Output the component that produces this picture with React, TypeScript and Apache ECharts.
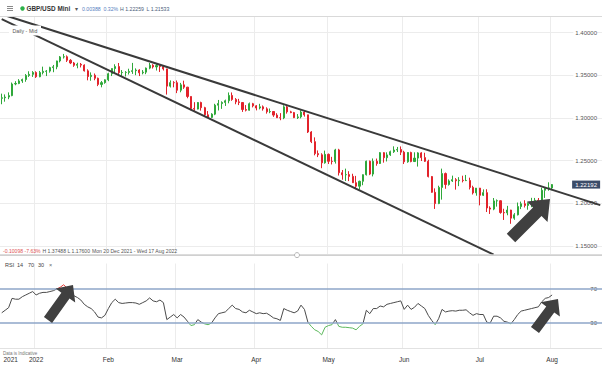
import React, { useEffect, useRef } from 'react';
import * as echarts from 'echarts';

// ---- OHLC data: [open, close, low, high] per trading day ----
const dec21: number[][] = [
  [1.3229, 1.3236, 1.3160, 1.3284], [1.3236, 1.3244, 1.3190, 1.3275], [1.3244, 1.3261, 1.3219, 1.3299],
  [1.3261, 1.3397, 1.3254, 1.3414], [1.3397, 1.3403, 1.3382, 1.3430], [1.3403, 1.3433, 1.3395, 1.3454],
  [1.3433, 1.3449, 1.3410, 1.3460], [1.3449, 1.3497, 1.3423, 1.3513], [1.3497, 1.3510, 1.3480, 1.3546],
  [1.3510, 1.3532, 1.3480, 1.3548],
];
const jan22: number[][] = [
  [1.3532, 1.3482, 1.3468, 1.3546], [1.3482, 1.3531, 1.3476, 1.3550], [1.3531, 1.3545, 1.3509, 1.3600],
  [1.3545, 1.3548, 1.3490, 1.3560], [1.3548, 1.3589, 1.3530, 1.3599], [1.3589, 1.3598, 1.3535, 1.3620],
  [1.3598, 1.3667, 1.3570, 1.3670], [1.3667, 1.3714, 1.3650, 1.3725], [1.3714, 1.3716, 1.3695, 1.3749],
  [1.3716, 1.3675, 1.3655, 1.3732], [1.3675, 1.3643, 1.3630, 1.3688], [1.3643, 1.3616, 1.3598, 1.3655],
  [1.3616, 1.3627, 1.3581, 1.3646], [1.3627, 1.3618, 1.3591, 1.3643], [1.3618, 1.3551, 1.3543, 1.3627],
  [1.3551, 1.3484, 1.3440, 1.3569], [1.3484, 1.3499, 1.3435, 1.3533], [1.3499, 1.3464, 1.3441, 1.3520],
  [1.3464, 1.3392, 1.3372, 1.3472], [1.3392, 1.3413, 1.3358, 1.3432], [1.3413, 1.3446, 1.3400, 1.3452],
];
const feb22: number[][] = [
  [1.3446, 1.3517, 1.3430, 1.3529], [1.3517, 1.3578, 1.3490, 1.3580], [1.3578, 1.3601, 1.3516, 1.3628],
  [1.3601, 1.3530, 1.3490, 1.3643], [1.3530, 1.3532, 1.3490, 1.3560], [1.3532, 1.3533, 1.3485, 1.3548],
  [1.3533, 1.3544, 1.3508, 1.3576], [1.3544, 1.3553, 1.3515, 1.3644], [1.3553, 1.3560, 1.3500, 1.3580],
  [1.3560, 1.3528, 1.3490, 1.3570], [1.3528, 1.3536, 1.3510, 1.3560], [1.3536, 1.3583, 1.3512, 1.3590],
  [1.3583, 1.3616, 1.3570, 1.3643], [1.3616, 1.3597, 1.3578, 1.3629], [1.3597, 1.3613, 1.3555, 1.3640],
  [1.3613, 1.3601, 1.3538, 1.3619], [1.3601, 1.3574, 1.3555, 1.3617], [1.3574, 1.3372, 1.3273, 1.3575],
  [1.3372, 1.3413, 1.3356, 1.3439], [1.3413, 1.3412, 1.3358, 1.3430],
];
const mar22: number[][] = [
  [1.3412, 1.3324, 1.3290, 1.3438], [1.3324, 1.3387, 1.3300, 1.3410], [1.3387, 1.3360, 1.3340, 1.3436],
  [1.3360, 1.3251, 1.3230, 1.3363], [1.3251, 1.3111, 1.3090, 1.3252], [1.3111, 1.3103, 1.3083, 1.3184],
  [1.3103, 1.3180, 1.3100, 1.3186], [1.3180, 1.3120, 1.3085, 1.3190], [1.3120, 1.3036, 1.3020, 1.3130],
  [1.3036, 1.3006, 1.3000, 1.3080], [1.3006, 1.3044, 1.2999, 1.3055], [1.3044, 1.3149, 1.3032, 1.3165],
  [1.3149, 1.3168, 1.3087, 1.3210], [1.3168, 1.3181, 1.3106, 1.3194], [1.3181, 1.3201, 1.3140, 1.3214],
  [1.3201, 1.3263, 1.3171, 1.3298], [1.3263, 1.3216, 1.3200, 1.3298], [1.3216, 1.3188, 1.3160, 1.3232],
  [1.3188, 1.3180, 1.3150, 1.3223], [1.3180, 1.3098, 1.3070, 1.3184], [1.3098, 1.3090, 1.3076, 1.3150],
  [1.3090, 1.3166, 1.3085, 1.3180], [1.3166, 1.3141, 1.3123, 1.3176],
];
const apr22: number[][] = [
  [1.3141, 1.3116, 1.3088, 1.3150], [1.3116, 1.3130, 1.3100, 1.3165], [1.3130, 1.3106, 1.3085, 1.3146],
  [1.3106, 1.3072, 1.3050, 1.3124], [1.3072, 1.3075, 1.3055, 1.3110], [1.3075, 1.3033, 1.3012, 1.3080],
  [1.3033, 1.3002, 1.3000, 1.3055], [1.3002, 1.3000, 1.2973, 1.3056], [1.3000, 1.3129, 1.2985, 1.3148],
  [1.3129, 1.3071, 1.3050, 1.3148], [1.3071, 1.3062, 1.3055, 1.3083], [1.3062, 1.3003, 1.2998, 1.3070],
  [1.3003, 1.3012, 1.2987, 1.3045], [1.3012, 1.3068, 1.2994, 1.3090], [1.3068, 1.3036, 1.3015, 1.3090],
  [1.3036, 1.2835, 1.2823, 1.3037], [1.2835, 1.2722, 1.2705, 1.2845], [1.2722, 1.2582, 1.2562, 1.2772],
  [1.2582, 1.2568, 1.2541, 1.2619], [1.2568, 1.2474, 1.2411, 1.2586], [1.2474, 1.2573, 1.2464, 1.2617],
];
const may22: number[][] = [
  [1.2573, 1.2492, 1.2460, 1.2583], [1.2492, 1.2490, 1.2455, 1.2544], [1.2490, 1.2625, 1.2465, 1.2638],
  [1.2625, 1.2358, 1.2325, 1.2638], [1.2358, 1.2334, 1.2276, 1.2390], [1.2334, 1.2336, 1.2261, 1.2406],
  [1.2336, 1.2315, 1.2260, 1.2376], [1.2315, 1.2241, 1.2238, 1.2346], [1.2241, 1.2200, 1.2165, 1.2321],
  [1.2200, 1.2258, 1.2160, 1.2265], [1.2258, 1.2335, 1.2212, 1.2338], [1.2335, 1.2493, 1.2325, 1.2500],
  [1.2493, 1.2342, 1.2330, 1.2500], [1.2342, 1.2492, 1.2315, 1.2525], [1.2492, 1.2466, 1.2440, 1.2524],
  [1.2466, 1.2593, 1.2460, 1.2600], [1.2593, 1.2534, 1.2476, 1.2599], [1.2534, 1.2567, 1.2490, 1.2597],
  [1.2567, 1.2604, 1.2555, 1.2617], [1.2604, 1.2624, 1.2590, 1.2667], [1.2624, 1.2630, 1.2600, 1.2660],
  [1.2630, 1.2599, 1.2565, 1.2666],
];
const jun22: number[][] = [
  [1.2599, 1.2486, 1.2460, 1.2615], [1.2486, 1.2595, 1.2475, 1.2599], [1.2595, 1.2489, 1.2480, 1.2604],
  [1.2489, 1.2529, 1.2484, 1.2597], [1.2529, 1.2590, 1.2430, 1.2598], [1.2590, 1.2535, 1.2495, 1.2599],
  [1.2535, 1.2492, 1.2484, 1.2592], [1.2492, 1.2313, 1.2303, 1.2510], [1.2313, 1.2129, 1.2123, 1.2320],
  [1.2129, 1.1997, 1.1934, 1.2175], [1.1997, 1.2186, 1.1990, 1.2206], [1.2186, 1.2348, 1.2043, 1.2406],
  [1.2348, 1.2220, 1.2170, 1.2360], [1.2220, 1.2262, 1.2207, 1.2280], [1.2262, 1.2277, 1.2250, 1.2324],
  [1.2277, 1.2264, 1.2160, 1.2295], [1.2264, 1.2270, 1.2201, 1.2306], [1.2270, 1.2266, 1.2245, 1.2323],
  [1.2266, 1.2267, 1.2260, 1.2332], [1.2267, 1.2186, 1.2162, 1.2300], [1.2186, 1.2122, 1.2103, 1.2206],
  [1.2122, 1.2178, 1.2089, 1.2179],
];
const jul22: number[][] = [
  [1.2178, 1.2094, 1.1976, 1.2180], [1.2094, 1.2125, 1.2085, 1.2163], [1.2125, 1.1945, 1.1898, 1.2165],
  [1.1945, 1.1932, 1.1875, 1.1965], [1.1932, 1.2028, 1.1919, 1.2062], [1.2028, 1.2030, 1.1961, 1.2045],
  [1.2030, 1.1892, 1.1878, 1.2035], [1.1892, 1.1888, 1.1805, 1.1936], [1.1888, 1.1921, 1.1860, 1.1970],
  [1.1921, 1.1826, 1.1760, 1.1924], [1.1826, 1.1865, 1.1807, 1.1885], [1.1865, 1.1962, 1.1858, 1.2009],
  [1.1962, 1.1994, 1.1932, 1.2020], [1.1994, 1.1975, 1.1951, 1.2036], [1.1975, 1.1999, 1.1925, 1.2012],
  [1.1999, 1.2001, 1.1954, 1.2064], [1.2001, 1.2035, 1.1980, 1.2063], [1.2035, 1.2029, 1.1985, 1.2062],
  [1.2029, 1.2153, 1.2015, 1.2183], [1.2153, 1.2178, 1.2063, 1.2190], [1.2178, 1.2180, 1.2147, 1.2246],
];
const aug22: number[][] = [[1.2180, 1.22192, 1.21533, 1.22259]];

// ---- RSI(14) ----
const rsiDec21 = [42, 45, 48, 59, 58, 58, 61, 63, 65, 67];
const rsiJan22 = [63, 65, 66, 66, 67, 68, 70, 72, 75, 71, 67, 62, 60, 57, 52, 49, 47, 43, 37, 36, 39];
const rsiFeb22 = [47, 54, 58, 54, 53, 53.5, 54, 54, 53.5, 52, 54, 56, 59.5, 56, 55, 57, 54, 34, 37, 40];
const rsiMar22 = [36, 40, 37, 32, 27, 28, 34, 31, 29, 28, 30, 36, 41, 42, 43, 47, 51, 47, 46, 43, 42, 45, 43];
const rsiApr22 = [41, 42, 41, 41.5, 39, 36, 35, 33, 47, 45, 43.5, 42, 44, 51, 46, 31, 26, 22, 20, 16, 25];
const rsiMay22 = [27, 28, 34, 26, 25, 25, 24.5, 24, 22, 26, 29, 45, 41, 47, 47, 50, 49, 52, 53, 54, 55, 56];
const rsiJun22 = [46, 51, 46, 48.5, 53, 50, 47, 39, 33, 28, 35, 46, 43, 44, 44.5, 44, 45, 45, 45.5, 42, 39, 41];
const rsiJul22 = [40, 40, 31, 30, 38, 38, 36, 32, 31, 29, 34, 40, 44, 45, 46, 47, 48, 49, 55, 59, 60];
const rsiAug22 = [63];

// ---- trend lines drawn on the chart: [category index, price] ----
const upperTrend = [[0, 1.4213], [174, 1.1979]];
const lowerTrend = [[0, 1.4156], [143, 1.1398]];

const lastPrice = 1.22192;
const monthNames = ['Jan', 'Feb', 'Mar', 'Apr', 'May', 'Jun', 'Jul', 'Aug', 'Sep', 'Oct', 'Nov', 'Dec'];
const TOTAL_SLOTS = 175;

const ohlc = [...dec21, ...jan22, ...feb22, ...mar22, ...apr22, ...may22, ...jun22, ...jul22, ...aug22];
const rsi = [...rsiDec21, ...rsiJan22, ...rsiFeb22, ...rsiMar22, ...rsiApr22, ...rsiMay22, ...rsiJun22, ...rsiJul22, ...rsiAug22];

function buildDates(): string[] {
  const out: string[] = [];
  const d = new Date(Date.UTC(2021, 11, 20));
  while (out.length < TOTAL_SLOTS) {
    const wd = d.getUTCDay();
    if (wd !== 0 && wd !== 6) out.push(d.toISOString().slice(0, 10));
    d.setUTCDate(d.getUTCDate() + 1);
  }
  return out;
}

function arrowPts(tx: number, ty: number, px: number, py: number, shaft: number, head: number, headLen: number) {
  const dx = px - tx, dy = py - ty;
  const len = Math.hypot(dx, dy);
  const ux = dx / len, uy = dy / len;
  const nx = -uy, ny = ux;
  const bx = px - ux * headLen, by = py - uy * headLen;
  return [
    [tx + nx * shaft / 2, ty + ny * shaft / 2],
    [bx + nx * shaft / 2, by + ny * shaft / 2],
    [bx + nx * head / 2, by + ny * head / 2],
    [px, py],
    [bx - nx * head / 2, by - ny * head / 2],
    [bx - nx * shaft / 2, by - ny * shaft / 2],
    [tx - nx * shaft / 2, ty - ny * shaft / 2],
  ];
}

const FONT = 'Liberation Sans, Arial, sans-serif';

export default function App() {
  const ref = useRef<HTMLDivElement>(null);
  useEffect(() => {
    document.body.style.margin = '0';
    if (!ref.current) return;
    const chart = echarts.init(ref.current, undefined, { renderer: 'svg' });
    const dates = buildDates();
    const monthOf = (i: number) => Number(dates[i].slice(5, 7));
    const isMonthStart = (i: number) => i > 0 && monthOf(i) !== monthOf(i - 1);
    const gridL = -2.3, gridW = 605.5;

    const txt = (x: number, y: number, text: string, fill: string, size: number, extra: any = {}) => ({
      type: 'text', x, y, z: 110,
      style: { text, fill, fontSize: size, fontFamily: FONT, verticalAlign: 'middle', ...extra },
    });

    const option: any = {
      animation: false,
      textStyle: { fontFamily: FONT },
      grid: [
        { left: gridL, width: gridW, top: 32.5, height: 213.5 },
        { left: gridL, width: gridW, top: 16, height: 238 },
        { left: gridL, width: gridW, top: 263.5, height: 85 },
      ],
      xAxis: [
        { type: 'category', gridIndex: 0, data: dates, boundaryGap: true, axisLine: { show: false }, axisTick: { show: false }, axisLabel: { show: false }, splitLine: { show: false } },
        {
          type: 'category', gridIndex: 1, data: dates, boundaryGap: true, axisLine: { show: false }, axisTick: { show: false }, axisLabel: { show: false },
          splitLine: { show: true, interval: (i: number) => isMonthStart(i), lineStyle: { color: '#ececec', width: 1 } },
        },
        {
          type: 'category', gridIndex: 2, data: dates, boundaryGap: true,
          axisLine: { show: true, lineStyle: { color: '#e2e2e2' } }, axisTick: { show: false },
          axisLabel: {
            show: true, interval: (i: number) => i === 0 || isMonthStart(i), margin: 7, fontSize: 6.5, color: '#333',
            formatter: (_v: string, i: number) => {
              if (i === 0) return '{f|' + dates[0].slice(0, 4) + '}';
              const m = monthOf(i);
              return m === 1 ? dates[i].slice(0, 4) : monthNames[m - 1];
            },
            rich: { f: { padding: [0, 0, 0, 18], fontSize: 6.5, color: '#333' } },
          },
          splitLine: { show: true, interval: (i: number) => isMonthStart(i), lineStyle: { color: '#ececec', width: 1 } },
        },
      ],
      yAxis: [
        {
          type: 'value', gridIndex: 0, position: 'right', min: 1.15, max: 1.40, interval: 0.05,
          axisLine: { show: false }, axisTick: { show: false },
          axisLabel: { inside: true, margin: 5, fontSize: 6, color: '#555', backgroundColor: '#fff', padding: [0, 0, 0, 2], formatter: (v: number) => v.toFixed(5) },
          splitLine: { show: true, lineStyle: { color: '#ececec' } },
        },
        { type: 'value', gridIndex: 1, min: 0, max: 1, show: false },
        {
          type: 'value', gridIndex: 2, position: 'right', min: 0, max: 100, interval: 10,
          axisLine: { show: false }, axisTick: { show: false }, splitLine: { show: false },
          axisLabel: {
            inside: true, margin: 5, fontSize: 6, color: '#555',
            formatter: (v: number) => (v === 30 || v === 70 ? '{b|' + v + '}' : ''),
            rich: { b: { backgroundColor: '#fff', padding: [0, 0, 0, 2], fontSize: 6, color: '#555' } },
          },
        },
      ],
      visualMap: {
        type: 'piecewise', show: false, seriesIndex: 3, dimension: 1,
        pieces: [
          { lt: 30, color: '#5cb85c' },
          { gte: 30, lte: 70, color: '#4a4a4a' },
          { gt: 70, color: '#e53935' },
        ],
      },
      series: [
        {
          type: 'candlestick', xAxisIndex: 0, yAxisIndex: 0, data: ohlc, barWidth: 1.6, z: 2,
          itemStyle: { color: '#2fa83a', color0: '#e2232b', borderColor: '#2fa83a', borderColor0: '#e2232b', borderWidth: 1 },
          markPoint: {
            silent: true,
            symbol: 'rect', symbolSize: [28, 8], symbolOffset: [34, 0],
            itemStyle: { color: '#3b4c69' },
            label: { show: true, position: 'inside', color: '#fff', fontSize: 6, formatter: () => lastPrice.toFixed(5) },
            data: [{ coord: [ohlc.length - 1, lastPrice], value: lastPrice }],
          },
        },
        {
          type: 'line', xAxisIndex: 0, yAxisIndex: 0, data: upperTrend, symbol: 'none', clip: false, z: 5, silent: true,
          lineStyle: { color: '#3a3a3a', width: 2 },
        },
        {
          type: 'line', xAxisIndex: 0, yAxisIndex: 0, data: lowerTrend, symbol: 'none', clip: false, z: 5, silent: true,
          lineStyle: { color: '#3a3a3a', width: 2 },
        },
        {
          type: 'line', xAxisIndex: 2, yAxisIndex: 2, data: rsi, symbol: 'none', z: 4, silent: true,
          lineStyle: { width: 1 },
          markLine: {
            silent: true, symbol: 'none', label: { show: false },
            lineStyle: { color: '#8ea6c9', width: 1.5, type: 'solid' },
            data: [{ yAxis: 70 }, { yAxis: 30 }],
          },
        },
      ],
      graphic: [
        { type: 'rect', z: 100, shape: { x: 0, y: 0, width: 602, height: 16 }, style: { fill: '#fff' } },
        { type: 'line', z: 101, shape: { x1: 0, y1: 16.5, x2: 602, y2: 16.5 }, style: { stroke: '#d9d9d9', lineWidth: 1 } },
        { type: 'line', z: 101, shape: { x1: 7, y1: 6.5, x2: 13, y2: 6.5 }, style: { stroke: '#8a8a8a', lineWidth: 1 } },
        { type: 'line', z: 101, shape: { x1: 7, y1: 8.5, x2: 13, y2: 8.5 }, style: { stroke: '#8a8a8a', lineWidth: 1 } },
        { type: 'line', z: 101, shape: { x1: 7, y1: 10.5, x2: 13, y2: 10.5 }, style: { stroke: '#8a8a8a', lineWidth: 1 } },
        { type: 'circle', z: 101, shape: { cx: 22.5, cy: 8.5, r: 2.2 }, style: { fill: '#2db14a' } },
        txt(26.5, 8.7, 'GBP/USD Mini', '#333', 6.4, { fontWeight: 'bold' }),
        txt(75, 8.5, '▾', '#555', 5.5),
        txt(82, 8.7, '0.00388', '#5580c0', 5.2),
        txt(103.5, 8.7, '0.32%', '#5580c0', 5.2),
        txt(120, 8.7, 'H 1.22259', '#4b5d7a', 5.2),
        txt(146.5, 8.7, 'L 1.21533', '#4b5d7a', 5.2),
        { type: 'rect', z: 100, shape: { x: 9, y: 25.5, width: 32, height: 10 }, style: { fill: '#fff' } },
        txt(12.5, 30.7, 'Daily', '#555', 5.2),
        txt(25.5, 30.7, '-', '#555', 5.2),
        txt(29, 30.7, 'Mid', '#555', 5.2),
        txt(3, 250.5, '-0.10098', '#e05555', 5.1),
        txt(24.5, 250.5, '-7.63%', '#e05555', 5.1),
        txt(42.5, 250.5, 'H 1.37488', '#555', 5.1),
        txt(67.5, 250.5, 'L 1.17600', '#555', 5.1),
        txt(92, 250.5, 'Mon 20 Dec 2021 - Wed 17 Aug 2022', '#555', 5.1),
        { type: 'rect', z: 100, shape: { x: 0, y: 254.3, width: 602, height: 1.6 }, style: { fill: '#d0d0d0' } },
        { type: 'circle', z: 101, shape: { cx: 297, cy: 255.1, r: 2.5 }, style: { fill: '#fff', stroke: '#b5b5b5', lineWidth: 1 } },
        txt(5, 264.5, 'RSI', '#444', 5.5),
        txt(17, 264.5, '14', '#444', 5.5),
        txt(28, 264.5, '70', '#444', 5.5),
        txt(38, 264.5, '30', '#444', 5.5),
        txt(49, 264.5, '×', '#666', 5.5),
        txt(3, 353, 'Data is Indicative', '#777', 4.5),
        { type: 'polygon', z: 105, shape: { points: arrowPts(511, 238, 550, 199, 12, 29, 18) }, style: { fill: '#404040' } },
        { type: 'polygon', z: 105, shape: { points: arrowPts(48, 320, 73, 285, 10, 24, 13) }, style: { fill: '#404040' } },
        { type: 'polygon', z: 105, shape: { points: arrowPts(535, 330, 558, 299, 10, 24, 13) }, style: { fill: '#404040' } },
      ],
    };
    chart.setOption(option);
    return () => chart.dispose();
  }, []);
  return <div ref={ref} style={{ width: 602, height: 365 }} />;
}
